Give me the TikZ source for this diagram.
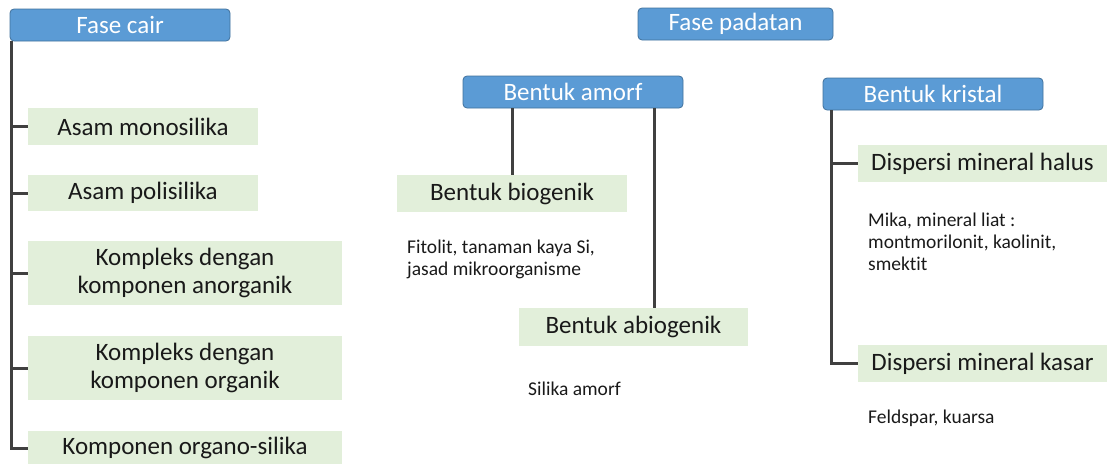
\documentclass[tikz,border=0pt]{standalone}
\usepackage{fontspec}
\setmainfont{Carlito}[Ligatures=NoCommon]
\usepackage{xcolor}
\usetikzlibrary{positioning, calc}

\definecolor{headblue}{RGB}{91,155,213}
\definecolor{headline}{RGB}{65,113,156}
\definecolor{itemgreen}{RGB}{226,239,218}
\definecolor{linegray}{RGB}{64,64,64}

\tikzset{
  headbox/.style={fill=headblue, draw=headline, line width=0.8pt, rounded corners=4pt,
    text=white, font=\fontsize{25}{28}\selectfont, inner sep=0pt},
  itembox/.style={fill=itemgreen, draw=none, text=black!90,
    font=\fontsize{25}{28}\selectfont, align=center, inner sep=0pt},
  note/.style={text=black!90, font=\fontsize{19.5}{22}\selectfont, align=left,
    anchor=west, inner sep=0pt},
  conn/.style={draw=linegray, line width=3pt}
}

\begin{document}
\begin{tikzpicture}[x=1pt, y=-1pt]
        \useasboundingbox (0,0) rectangle (1107,463);

        % Fase cair
        \node[headbox, minimum width=220, minimum height=32] (cair) at (120,25) {Fase cair};
        \node[itembox, minimum width=230, minimum height=37] (mono) at (143,126.5) {Asam monosilika};
        \node[itembox, minimum width=230, minimum height=36] (poli) at (143,193) {Asam polisilika};
        \node[itembox, minimum width=314, minimum height=64] (anorg) at (185,273) {Kompleks dengan\\komponen anorganik};
        \node[itembox, minimum width=314, minimum height=64] (org) at (185,368) {Kompleks dengan\\komponen organik};
        \node[itembox, minimum width=314, minimum height=34] (orgsil) at (185,448) {Komponen organo-silika};

        % Fase padatan
        \node[headbox, minimum width=195, minimum height=32] (padat) at (735.5,24) {Fase padatan};
        \node[headbox, minimum width=220, minimum height=32] (amorf) at (573,92) {Bentuk amorf};
        \node[headbox, minimum width=220, minimum height=32] (kristal) at (933,94) {Bentuk kristal};

        \node[itembox, minimum width=230, minimum height=37] (bio) at (512,193.5) {Bentuk biogenik};
        \node[itembox, minimum width=229, minimum height=38] (abio) at (633.5,327) {Bentuk abiogenik};
        \node[itembox, minimum width=249, minimum height=37] (halus) at (982.5,163.5) {Dispersi mineral halus};
        \node[itembox, minimum width=249, minimum height=37] (kasar) at (982.5,363.5) {Dispersi mineral kasar};

        % Notes
        \node[note] (fitolit) at (407,259) {Fitolit, tanaman kaya Si,\\jasad mikroorganisme};
        \node[note] (silika) at (528,389) {Silika amorf};
        \node[note] (mika) at (868,242) {Mika, mineral liat :\\montmorilonit, kaolinit,\\smektit};
        \node[note] (feld) at (868,418) {Feldspar, kuarsa};

        % Connectors
        \foreach \item in {mono, poli, anorg, org, orgsil}
          \draw[conn] ([xshift=2pt]cair.south west) |- (\item.west);
        \draw[conn] (amorf.south -| bio.north) -- (bio.north);
        \draw[conn] ([xshift=-29pt]amorf.south east) -- ([xshift=-29pt]amorf.south east |- abio.north);
        \foreach \item in {halus, kasar}
          \draw[conn] ([xshift=9pt]kristal.south west) |- (\item.west);
    \end{tikzpicture}
\end{document}
